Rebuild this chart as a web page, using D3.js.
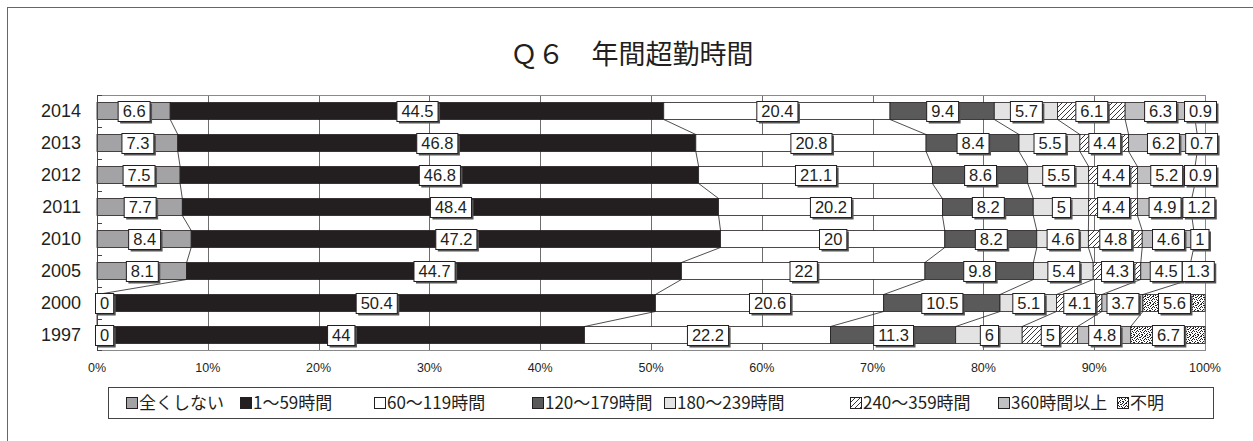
<!DOCTYPE html>
<html>
<head>
<meta charset="utf-8">
<script src="https://cdn.jsdelivr.net/npm/d3@7"></script>
<style>
  html, body { margin: 0; padding: 0; background: #fff; }
  svg { display: block; }
</style>
</head>
<body>
<svg id="chart" width="1253" height="441"></svg>
<script>
// Survey years, top to bottom
const years = ["2014", "2013", "2012", "2011", "2010", "2005", "2000", "1997"];

// Answer categories (stack order, left to right)
const seriesNames = ["全くしない", "1～59時間", "60～119時間", "120～179時間",
                     "180～239時間", "240～359時間", "360時間以上", "不明"];

// Percentages per category, one value per year (same order as `years`)
const none      = [6.6, 7.3, 7.5, 7.7, 8.4, 8.1, 0, 0];
const h1to59    = [44.5, 46.8, 46.8, 48.4, 47.2, 44.7, 50.4, 44];
const h60to119  = [20.4, 20.8, 21.1, 20.2, 20, 22, 20.6, 22.2];
const h120to179 = [9.4, 8.4, 8.6, 8.2, 8.2, 9.8, 10.5, 11.3];
const h180to239 = [5.7, 5.5, 5.5, 5, 4.6, 5.4, 5.1, 6];
const h240to359 = [6.1, 4.4, 4.4, 4.4, 4.8, 4.3, 4.1, 5];
const h360plus  = [6.3, 6.2, 5.2, 4.9, 4.6, 4.5, 3.7, 4.8];
const unknown   = [0.9, 0.7, 0.9, 1.2, 1, 1.3, 5.6, 6.7];

const tickLabels = ["0%", "10%", "20%", "30%", "40%", "50%", "60%", "70%", "80%", "90%", "100%"];
const title = "Ｑ６　年間超勤時間";

const seriesValues = [none, h1to59, h60to119, h120to179, h180to239, h240to359, h360plus, unknown];

// Row table for d3.stack
const rows = years.map((y, i) => {
  const r = { year: y };
  seriesNames.forEach((s, k) => { r[s] = seriesValues[k][i]; });
  return r;
});

const svg = d3.select("#chart");
const W = 1253, H = 441;
const plot = { left: 97, right: 1205, top: 95, bottom: 351 };

// ---- fills & patterns ----
const defs = svg.append("defs");
const hatch = defs.append("pattern")
  .attr("id", "hatch").attr("patternUnits", "userSpaceOnUse")
  .attr("width", 5).attr("height", 5);
hatch.append("rect").attr("width", 5).attr("height", 5).attr("fill", "#fff");
hatch.append("path").attr("d", "M0,5 L5,0 M-1,1 L1,-1 M4,6 L6,4")
  .attr("stroke", "#222").attr("stroke-width", 0.9);

const speckle = defs.append("pattern")
  .attr("id", "speckle").attr("patternUnits", "userSpaceOnUse")
  .attr("width", 8).attr("height", 8);
speckle.append("rect").attr("width", 8).attr("height", 8).attr("fill", "#fff");
const dots = [[0,0],[1,0],[5,0],[3,1],[4,1],[7,1],[6,2],[0,3],[2,3],[4,3],
              [5,4],[7,4],[0,5],[3,5],[2,6],[5,6],[6,6],[1,7],[6,7],[3,7],[1,2]];
speckle.selectAll("rect.d").data(dots).join("rect").attr("class", "d")
  .attr("x", d => d[0]).attr("y", d => d[1]).attr("width", 1).attr("height", 1)
  .attr("fill", "#222");

const fills = ["#a3a3a5", "#231f20", "#ffffff", "#5a5a5a",
               "#e3e3e3", "url(#hatch)", "#c0c0c2", "url(#speckle)"];

// ---- outer frame ----
svg.append("rect").attr("x", 7.5).attr("y", 7.5)
  .attr("width", W + 20).attr("height", H + 20)
  .attr("fill", "none").attr("stroke", "#666").attr("stroke-width", 1);

// ---- title ----
svg.append("text").attr("x", 632).attr("y", 64)
  .attr("text-anchor", "middle")
  .attr("font-family", "'Noto Sans CJK JP', sans-serif")
  .attr("font-size", 27).attr("fill", "#231f20")
  .text(title);

// ---- scales ----
const x = d3.scaleLinear().domain([0, 1]).range([plot.left, plot.right]);
const y = d3.scaleBand().domain(years).range([plot.top, plot.bottom])
  .paddingInner(0.47).paddingOuter(0.235);

const stacked = d3.stack().keys(seriesNames).offset(d3.stackOffsetExpand)(rows);

// ---- gridlines ----
const gridTicks = d3.range(1, 10).map(d => d / 10);
svg.append("g").selectAll("line").data(gridTicks).join("line")
  .attr("x1", d => Math.round(x(d)) + 0.5).attr("x2", d => Math.round(x(d)) + 0.5)
  .attr("y1", plot.top).attr("y2", plot.bottom)
  .attr("stroke", "#6d6d6d").attr("stroke-width", 1);

// plot area border
svg.append("rect").attr("x", plot.left + 0.5).attr("y", plot.top + 0.5)
  .attr("width", plot.right - plot.left).attr("height", plot.bottom - plot.top - 1)
  .attr("fill", "none").attr("stroke", "#8a8a8a");

// ---- bars ----
const barG = svg.append("g");
stacked.forEach((layer, k) => {
  barG.append("g").selectAll("rect").data(layer).join("rect")
    .attr("x", d => x(d[0]))
    .attr("y", d => y(d.data.year))
    .attr("width", d => Math.max(0, x(d[1]) - x(d[0])))
    .attr("height", y.bandwidth())
    .attr("fill", fills[k])
    .attr("stroke", "#231f20").attr("stroke-width", 0.8);
});

// ---- series lines between consecutive bars ----
const serLines = [];
stacked.forEach((layer, k) => {
  if (k === stacked.length - 1) return;
  for (let i = 0; i < years.length - 1; i++) {
    serLines.push({ x1: x(layer[i][1]), y1: y(years[i]) + y.bandwidth(),
                    x2: x(layer[i + 1][1]), y2: y(years[i + 1]) });
  }
});
svg.append("g").selectAll("line").data(serLines).join("line")
  .attr("x1", d => d.x1).attr("y1", d => d.y1)
  .attr("x2", d => d.x2).attr("y2", d => d.y2)
  .attr("stroke", "#231f20").attr("stroke-width", 0.8);

// ---- y axis ----
svg.append("line").attr("x1", plot.left + 0.5).attr("x2", plot.left + 0.5)
  .attr("y1", plot.top).attr("y2", plot.bottom).attr("stroke", "#444");
const bounds = years.map(yr => y(yr) - y.step() * y.paddingInner() / 2);
svg.append("g").selectAll("line").data([plot.top, ...bounds.slice(1), plot.bottom - 1]).join("line")
  .attr("x1", plot.left).attr("x2", plot.left + 5)
  .attr("y1", d => Math.round(d) + 0.5).attr("y2", d => Math.round(d) + 0.5)
  .attr("stroke", "#444");

svg.append("g").selectAll("text").data(years).join("text")
  .attr("x", 81).attr("y", d => y(d) + y.bandwidth() / 2)
  .attr("dy", "0.36em").attr("text-anchor", "end")
  .attr("font-family", "'Liberation Sans', Arial, sans-serif")
  .attr("font-size", 18).attr("fill", "#231f20")
  .text(d => d);

// ---- x tick labels ----
svg.append("g").selectAll("text").data(tickLabels).join("text")
  .attr("x", (d, i) => x(i / 10)).attr("y", 368)
  .attr("dy", "0.35em").attr("text-anchor", "middle")
  .attr("font-family", "'Liberation Sans', Arial, sans-serif")
  .attr("font-size", 12.5).attr("fill", "#231f20")
  .text(d => d);

// ---- data labels ----
const labelG = svg.append("g");
stacked.forEach((layer, k) => {
  layer.forEach((d, i) => {
    const val = seriesValues[k][i];
    const cx = (x(d[0]) + x(d[1])) / 2;
    const cy = y(d.data.year) + y.bandwidth() / 2;
    const g = labelG.append("g");
    const t = g.append("text")
      .attr("font-family", "'Liberation Sans', Arial, sans-serif")
      .attr("font-size", 16.5).attr("fill", "#231f20")
      .attr("text-anchor", "middle").attr("dy", "0.36em")
      .text(String(val));
    const tw = t.node().getComputedTextLength();
    const bw = tw + 9, bh = 20;
    let bx = cx - bw / 2;
    if (bx < plot.left - 2) bx = plot.left - 2;
    const by = cy - bh / 2;
    g.insert("rect", "text").attr("x", bx + 2.5).attr("y", by + 2.5)
      .attr("width", bw).attr("height", bh).attr("fill", "#555");
    g.insert("rect", "text").attr("x", bx + 0.5).attr("y", by + 0.5)
      .attr("width", bw).attr("height", bh)
      .attr("fill", "#fff").attr("stroke", "#231f20").attr("stroke-width", 1);
    t.attr("x", bx + bw / 2 + 0.5).attr("y", cy + 0.5);
  });
});

// ---- legend ----
const legendX = [126, 240, 374, 532, 664, 850, 998, 1117];
svg.append("rect").attr("x", 108.5).attr("y", 387.5)
  .attr("width", 1105).attr("height", 31)
  .attr("fill", "#fff").attr("stroke", "#444");
const lg = svg.append("g").selectAll("g").data(seriesNames).join("g")
  .attr("transform", (d, i) => `translate(${legendX[i]},403)`);
lg.append("rect").attr("x", 0.5).attr("y", -5.5).attr("width", 11).attr("height", 11)
  .attr("fill", (d, i) => fills[i]).attr("stroke", "#231f20").attr("stroke-width", 1);
lg.append("text").attr("x", 13).attr("dy", "0.36em")
  .attr("font-family", "'Noto Sans CJK JP', sans-serif")
  .attr("font-size", 17).attr("fill", "#231f20")
  .text(d => d);
</script>
</body>
</html>
